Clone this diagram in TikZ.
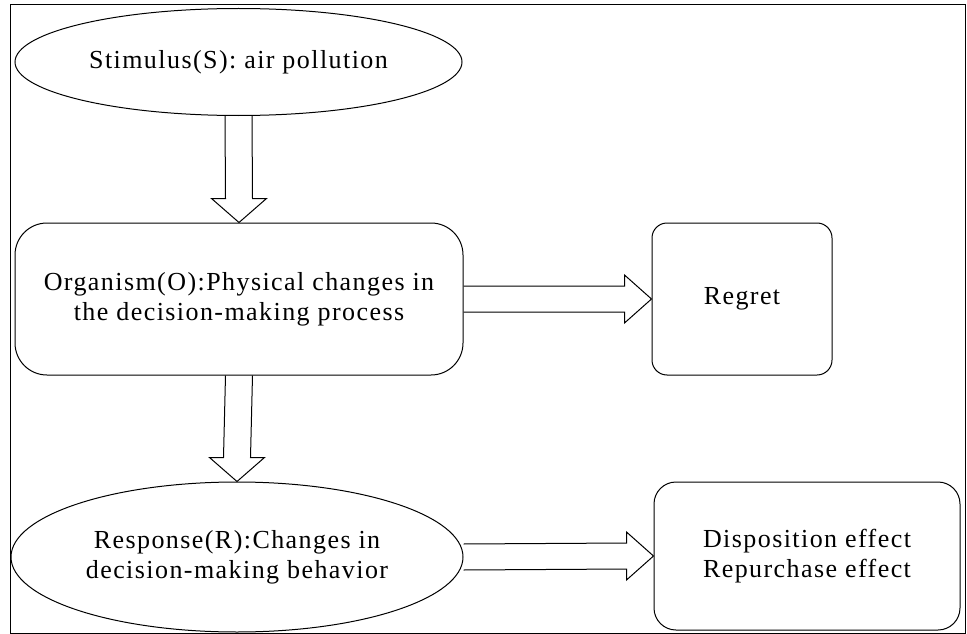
\documentclass[tikz,border=0pt]{standalone}
\usepackage{fontspec}
\setmainfont{Liberation Serif}[LetterSpace=5.5]
\usetikzlibrary{shapes.geometric,calc}

\tikzset{
  every node/.style={font=\fontsize{26}{30}\selectfont, align=center, inner sep=0pt},
  oval/.style={draw, ellipse},
  box/.style={draw, rectangle},
  blockarrow/.style={draw, line width=1pt, line join=miter},
}

% hollow arrow going down from #1 to #2
\newcommand{\arrowdown}[2]{%
  \draw[blockarrow] ($(#1.south)+(-13.5,0)$) -- ($(#2.north)+(-13.5,-24)$)
    -- ($(#2.north)+(-27.5,-24)$) -- (#2.north) -- ($(#2.north)+(27.5,-24)$)
    -- ($(#2.north)+(13.5,-24)$) -- ($(#1.south)+(13.5,0)$);}
% hollow arrow going right from #1 to #2
\newcommand{\arrowright}[2]{%
  \draw[blockarrow] ($(#1.east)+(0,-13)$) -- ($(#2.west)+(-27,-13)$)
    -- ($(#2.west)+(-27,-24)$) -- (#2.west) -- ($(#2.west)+(-27,24)$)
    -- ($(#2.west)+(-27,13)$) -- ($(#1.east)+(0,13)$);}

\begin{document}
\begin{tikzpicture}[x=1pt, y=-1pt, line width=1pt]
  \useasboundingbox (0,0) rectangle (967,634);
  \draw (10,5) rectangle (965,633);

  \node[oval, minimum width=447pt, minimum height=107pt] (stim) at (238.5,62)
    {Stimulus(S): air pollution};
  \node[box, rounded corners=32pt, minimum width=448pt, minimum height=152pt] (org) at (239,299)
    {Organism(O):Physical changes in\\the decision-making process};
  \node[box, rounded corners=15pt, minimum width=180pt, minimum height=152pt] (regret) at (742,299)
    {Regret};
  \node[oval, minimum width=452pt, minimum height=150pt] (resp) at (237,557)
    {Response(R):Changes in\\decision-making behavior};
  \node[box, rounded corners=22pt, minimum width=306pt, minimum height=148pt] (effect) at (807,556)
    {Disposition effect\\Repurchase effect};

  \arrowdown{stim}{org}
  \arrowright{org}{regret}
  \arrowdown{org}{resp}
  \arrowright{resp}{effect}
\end{tikzpicture}
\end{document}
